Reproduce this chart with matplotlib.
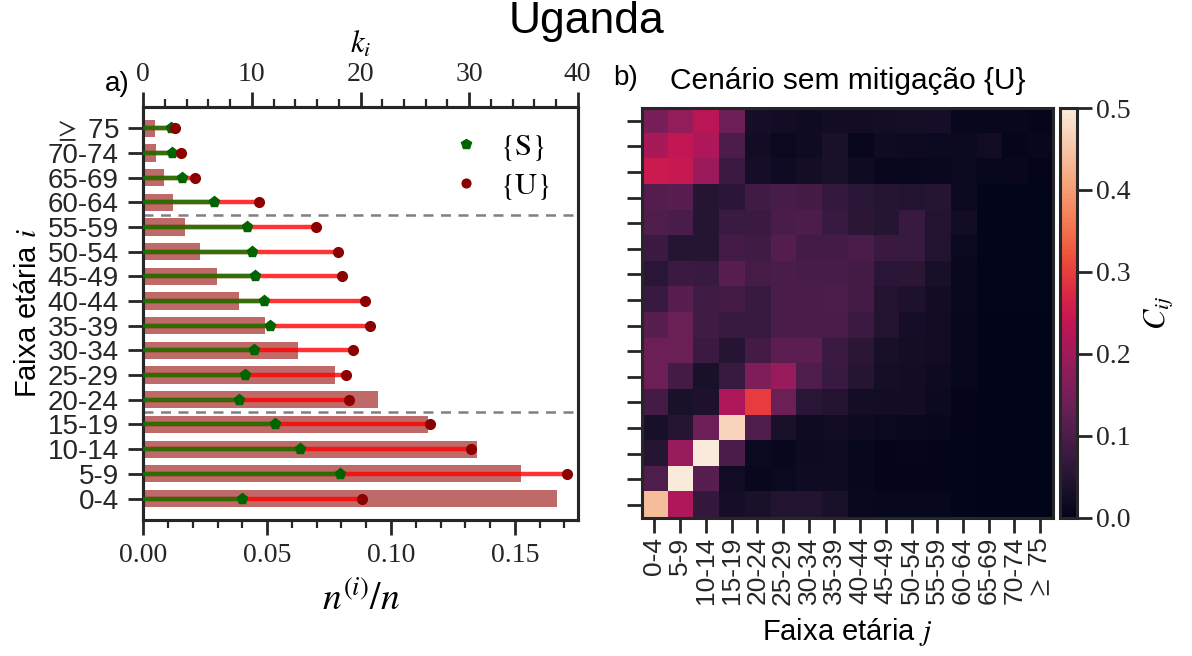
import matplotlib

matplotlib.use("Agg")
import matplotlib.pyplot as plt
import numpy as np
import seaborn as sns

# age bands, youngest first
age_groups = [
    "0-4", "5-9", "10-14", "15-19", "20-24", "25-29", "30-34", "35-39",
    "40-44", "45-49", "50-54", "55-59", "60-64", "65-69", "70-74", r"$\geq$ 75",
]

# population share n^(i)/n per band
pop_share = [
    0.1670, 0.1523, 0.1345, 0.1148, 0.0948, 0.0775, 0.0624, 0.0493,
    0.0387, 0.0297, 0.0229, 0.0170, 0.0119, 0.0085, 0.0051, 0.0047,
]

# mean contacts k_i, mitigated {S} and unmitigated {U}
k_s = [
    9.06, 18.09, 14.46, 12.17, 8.85, 9.35, 10.19, 11.64,
    11.11, 10.30, 9.98, 9.52, 6.52, 3.60, 2.61, 2.54,
]
k_u = [
    20.17, 39.04, 30.15, 26.38, 18.90, 18.62, 19.33, 20.84,
    20.39, 18.27, 17.95, 15.94, 10.69, 4.80, 3.45, 2.93,
]

# contact matrix C_ij, row i = respondent band (0-4 first), column j = contact band
contacts = [
    [0.440, 0.215, 0.070, 0.030, 0.035, 0.045, 0.045, 0.035, 0.012, 0.008, 0.009, 0.008, 0.003, 0.001, 0.001, 0.001],
    [0.105, 0.500, 0.115, 0.022, 0.010, 0.015, 0.020, 0.020, 0.009, 0.004, 0.005, 0.004, 0.002, 0.001, 0.001, 0.001],
    [0.050, 0.190, 0.500, 0.097, 0.015, 0.010, 0.018, 0.020, 0.009, 0.005, 0.006, 0.004, 0.002, 0.001, 0.001, 0.001],
    [0.033, 0.050, 0.140, 0.470, 0.105, 0.035, 0.020, 0.022, 0.018, 0.014, 0.012, 0.008, 0.004, 0.001, 0.001, 0.001],
    [0.088, 0.035, 0.040, 0.215, 0.295, 0.138, 0.055, 0.048, 0.026, 0.024, 0.024, 0.016, 0.005, 0.001, 0.001, 0.001],
    [0.140, 0.088, 0.035, 0.075, 0.160, 0.190, 0.105, 0.075, 0.050, 0.028, 0.024, 0.018, 0.008, 0.001, 0.001, 0.001],
    [0.140, 0.138, 0.080, 0.050, 0.088, 0.120, 0.120, 0.080, 0.058, 0.032, 0.026, 0.022, 0.008, 0.001, 0.001, 0.001],
    [0.117, 0.138, 0.085, 0.075, 0.075, 0.097, 0.097, 0.097, 0.080, 0.048, 0.030, 0.022, 0.009, 0.001, 0.001, 0.001],
    [0.075, 0.117, 0.085, 0.088, 0.075, 0.097, 0.097, 0.100, 0.088, 0.048, 0.040, 0.024, 0.012, 0.002, 0.002, 0.002],
    [0.055, 0.080, 0.075, 0.117, 0.093, 0.097, 0.095, 0.095, 0.088, 0.055, 0.058, 0.032, 0.012, 0.002, 0.002, 0.002],
    [0.080, 0.052, 0.052, 0.090, 0.085, 0.110, 0.090, 0.090, 0.097, 0.078, 0.075, 0.045, 0.014, 0.002, 0.002, 0.002],
    [0.105, 0.097, 0.050, 0.080, 0.080, 0.097, 0.100, 0.075, 0.058, 0.050, 0.075, 0.048, 0.024, 0.002, 0.002, 0.002],
    [0.110, 0.117, 0.052, 0.060, 0.085, 0.095, 0.088, 0.072, 0.056, 0.050, 0.045, 0.050, 0.014, 0.002, 0.002, 0.002],
    [0.250, 0.245, 0.195, 0.080, 0.030, 0.020, 0.027, 0.035, 0.020, 0.010, 0.010, 0.013, 0.014, 0.008, 0.011, 0.004],
    [0.210, 0.240, 0.215, 0.100, 0.025, 0.015, 0.020, 0.035, 0.010, 0.020, 0.018, 0.016, 0.016, 0.022, 0.007, 0.010],
    [0.155, 0.185, 0.230, 0.140, 0.030, 0.025, 0.020, 0.025, 0.025, 0.027, 0.028, 0.030, 0.008, 0.010, 0.011, 0.007],
]

SANS = "Liberation Sans"
SERIF = "Liberation Serif"
DARK = "#262626"

plt.rcParams.update({
    "font.family": SANS,
    "mathtext.fontset": "stix",
    "axes.edgecolor": DARK,
    "axes.linewidth": 2.2,
    "xtick.color": DARK,
    "ytick.color": DARK,
    "xtick.major.size": 10.5,
    "ytick.major.size": 10.5,
    "xtick.major.width": 2.0,
    "ytick.major.width": 2.0,
    "xtick.minor.size": 6,
    "xtick.minor.width": 1.6,
})

fig = plt.figure(figsize=(11.92, 6.56), dpi=100)
W, H = 1192.0, 656.0


def px_axes(x0, y0, x1, y1):
    return fig.add_axes([x0 / W, 1 - y1 / H, (x1 - x0) / W, (y1 - y0) / H])


y = np.arange(len(age_groups))

# ---- a) population share and contacts
ax = px_axes(143.3, 106.7, 577.7, 520)
ax.barh(y, pop_share, height=0.7, color="brown", alpha=0.7, zorder=1)
ax.set_xlim(0, 1.05 * max(pop_share))
ax.set_ylim(-0.87, 15.87)
ax.set_yticks(y)
ax.set_yticklabels(age_groups, fontsize=20)
ax.tick_params(axis="y", pad=7)
ax.set_xticks([0, 0.05, 0.10, 0.15])
ax.set_xticklabels(["0.00", "0.05", "0.10", "0.15"], family=SERIF, fontsize=20)
ax.tick_params(axis="x", pad=6)
ax.set_xticks(np.arange(0, 0.175, 0.01), minor=True)
ax.set_xlabel(r"$n^{(i)}/n$", fontsize=27, labelpad=10)
ax.set_ylabel(r"Faixa etária $i$", fontsize=21, labelpad=4)
for yd in (3.5, 11.5):
    ax.axhline(yd, color="grey", lw=1.8, ls=(0, (4, 3)), zorder=0)

ax2 = ax.twiny()
ax2.set_xlim(0, 40)
ax2.hlines(y, 0, k_u, color="red", alpha=0.8, lw=3.2, zorder=2)
ax2.hlines(y, 0, k_s, color="green", alpha=0.8, lw=3.2, zorder=3)
ax2.plot(k_s, y, ls="none", marker="p", ms=8, color="darkgreen", label=r"$\{\mathrm{S}\}$", zorder=4)
ax2.plot(k_u, y, ls="none", marker="o", ms=7, color="darkred", label=r"$\{\mathrm{U}\}$", zorder=4)
ax2.set_xticks([0, 10, 20, 30, 40])
ax2.set_xticklabels(["0", "10", "20", "30", "40"], family=SERIF, fontsize=20)
ax2.set_xticks(np.arange(0, 41, 2), minor=True)
ax2.set_xlabel(r"$k_i$", fontsize=22, labelpad=7)
ax2.legend(loc="upper right", bbox_to_anchor=(1.0, 1.005), frameon=False,
           fontsize=22, handlelength=1.0, handletextpad=0.6, labelspacing=0.25,
           markerscale=0.9)
ax.text(-0.06, 1.055, "a)", transform=ax.transAxes, fontsize=20, ha="center", va="center")

# ---- b) contact matrix
cmap = sns.color_palette("rocket", as_cmap=True)
hx = px_axes(641.5, 108, 1053, 517.5)
mesh = hx.imshow(np.array(contacts), origin="lower", cmap=cmap, vmin=0, vmax=0.5,
                 aspect="auto", interpolation="nearest")
hx.set_xticks(y)
hx.set_xticklabels(age_groups, rotation=90, fontsize=19)
hx.set_yticks(y)
hx.set_yticklabels([])
hx.set_xlabel(r"Faixa etária $j$", fontsize=21, labelpad=8)
hx.set_title("Cenário sem mitigação {U}", fontsize=21.5, pad=14)
hx.text(-0.038, 1.073, "b)", transform=hx.transAxes, fontsize=20, ha="center", va="center")

cax = px_axes(1060, 108, 1076.7, 517.5)
cb = fig.colorbar(mesh, cax=cax)
cb.set_ticks([0.0, 0.1, 0.2, 0.3, 0.4, 0.5])
cb.ax.set_yticklabels(["0.0", "0.1", "0.2", "0.3", "0.4", "0.5"], family=SERIF, fontsize=20)
cb.ax.tick_params(length=10.5, width=2.0)
cb.outline.set_linewidth(2.2)
cb.set_label(r"$C_{ij}$", fontsize=22, labelpad=8)

fig.text(586 / W, 1 - 22 / H, "Uganda", fontsize=32, ha="center", va="center")

fig.savefig("out.png", dpi=100)
